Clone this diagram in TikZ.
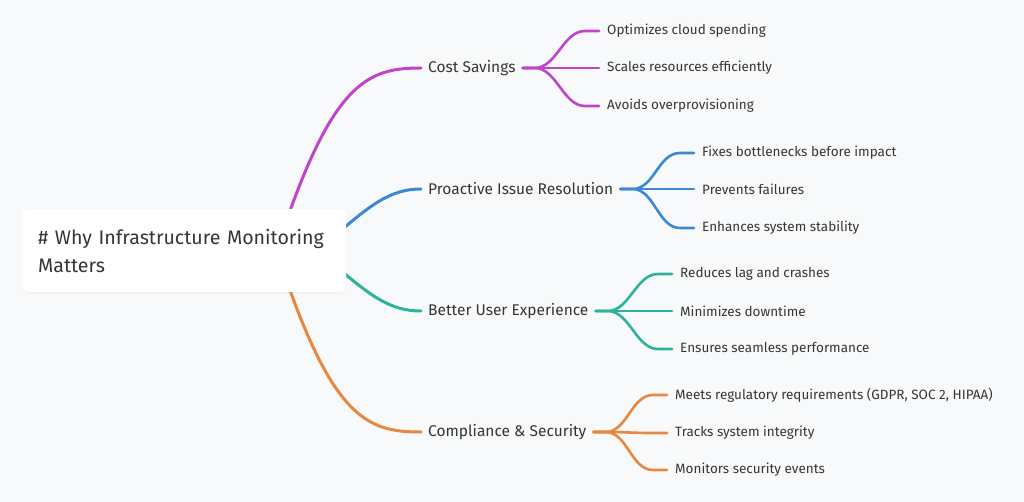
\documentclass[tikz,border=0pt]{standalone}
\usepackage{fontspec}
\setmainfont{Fira Sans}
\usetikzlibrary{backgrounds,shadows}
\definecolor{bgc}{HTML}{F8F9FA}
\definecolor{txt}{HTML}{363636}
\definecolor{cmag}{HTML}{BF44C9}
\definecolor{cblue}{HTML}{3A89D2}
\definecolor{cteal}{HTML}{2DB39B}
\definecolor{corange}{HTML}{E8883F}
\tikzset{
  rootbox/.style={draw=none, fill=white, rounded corners=6pt, anchor=west,
    text width=292pt, align=left, inner xsep=16pt, inner ysep=0pt,
    minimum height=83pt, text=txt,
    font=\fontsize{19.6}{28}\selectfont,
    drop shadow={opacity=0.06, shadow xshift=0pt, shadow yshift=-1.5pt}},
  branch/.style={anchor=west, inner xsep=7pt, inner ysep=2pt, text=txt,
    font=\fontsize{15.5}{18}\selectfont},
  leaf/.style={anchor=west, inner xsep=8pt, inner ysep=2pt, text=txt,
    font=\fontsize{13.5}{16}\selectfont},
  mainline/.style={line width=3pt, line cap=round},
  subline/.style={line width=2.6pt, line cap=round},
}
\begin{document}
\begin{tikzpicture}[x=1pt,y=-1pt]
\useasboundingbox (0,0) rectangle (1024,502);

% root
\node[rootbox] (root) at (22,250.5) {\# Why Infrastructure Monitoring Matters};

% branch nodes
\node[branch] (c1) at (421,68) {Cost Savings};
\node[branch] (c2) at (421,189) {Proactive Issue Resolution};
\node[branch] (c3) at (421,311) {Better User Experience};
\node[branch] (c4) at (421,432) {Compliance \& Security};

% leaves
\node[leaf] (l11) at (599,31) {Optimizes cloud spending};
\node[leaf] (l12) at (599,68) {Scales resources efficiently};
\node[leaf] (l13) at (599,106) {Avoids overprovisioning};

\node[leaf] (l21) at (694,153) {Fixes bottlenecks before impact};
\node[leaf] (l22) at (694,189) {Prevents failures};
\node[leaf] (l23) at (694,228) {Enhances system stability};

\node[leaf] (l31) at (672,274) {Reduces lag and crashes};
\node[leaf] (l32) at (672,311) {Minimizes downtime};
\node[leaf] (l33) at (672,349) {Ensures seamless performance};

\node[leaf] (l41) at (667,395) {Meets regulatory requirements (GDPR, SOC 2, HIPAA)};
\node[leaf] (l42) at (667,433) {Tracks system integrity};
\node[leaf] (l43) at (667,470) {Monitors security events};

\begin{pgfonlayer}{background}
\fill[bgc] (0,0) rectangle (1024,502);
\coordinate (r1) at (285,225);
\coordinate (r2) at (330,240);
\coordinate (r3) at (330,261);
\coordinate (r4) at (285,276);
\draw[mainline,cmag] (r1) .. controls (335,80) and (370,68) .. (c1.west);
\draw[mainline,cblue] (r2) .. controls (370,205) and (390,189) .. (c2.west);
\draw[mainline,cteal] (r3) .. controls (370,296) and (390,311) .. (c3.west);
\draw[mainline,corange] (r4) .. controls (335,421) and (370,432) .. (c4.west);

\foreach \c/\col in {1/cmag,2/cblue,3/cteal,4/corange}{
  \foreach \l in {1,2,3}{
    \draw[subline,\col] (c\c.east) -- ++(12,0)
      .. controls +(22,0) and +(-22,0) .. ([xshift=-14pt]l\c\l.west) -- (l\c\l.west);
  }
}
\end{pgfonlayer}
\end{tikzpicture}
\end{document}
